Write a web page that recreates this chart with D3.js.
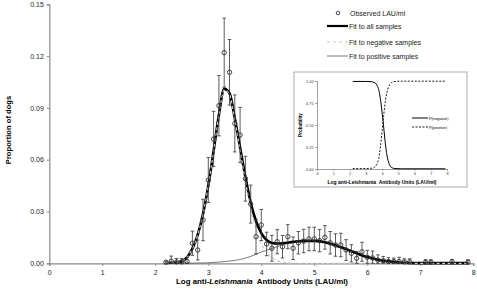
<!DOCTYPE html>
<html>
<head>
<meta charset="utf-8">
<script src="https://cdn.jsdelivr.net/npm/d3@7"></script>
<style>
  body { margin: 0; background: #fff; }
  svg text { font-family: "Liberation Sans", Arial, sans-serif; }
</style>
</head>
<body>
<svg id="chart" width="477" height="289"></svg>
<script>
// observed proportions with error bars
let obsX = [2.2, 2.3, 2.4, 2.5, 2.6, 2.7, 2.8, 2.9, 3.0, 3.1, 3.2, 3.3, 3.4, 3.5, 3.6, 3.7, 3.8, 3.9,
    4.0, 4.1, 4.2, 4.3, 4.4, 4.5, 4.6, 4.7, 4.8, 4.9, 5.0, 5.1, 5.2, 5.3, 5.4, 5.5, 5.6, 5.7, 5.8, 5.9,
    6.0, 6.1, 6.2, 6.3, 6.4, 6.5, 6.6, 6.7, 6.8, 7.1, 7.2, 7.6, 7.9];
let obsY = [0.0006, 0.0012, 0.0008, 0.0008, 0.0010, 0.0116, 0.0077, 0.0251, 0.0482, 0.0720, 0.0913, 0.1220,
    0.1106, 0.0810, 0.0743, 0.0490, 0.0343, 0.0154, 0.0222, 0.0112, 0.0087, 0.0125, 0.0096, 0.0154, 0.0087,
    0.0119, 0.0129, 0.0141, 0.0141, 0.0131, 0.0150, 0.0119, 0.0106, 0.0106, 0.0077, 0.0058, 0.0029, 0.0067,
    0.0035, 0.0031, 0.0019, 0.0015, 0.0010, 0.0010, 0.0010, 0.0008, 0.0008, 0.0006, 0.0006, 0.0008, 0.0006];
let obsErr = [0.0008, 0.0030, 0.0020, 0.0020, 0.0025, 0.0070, 0.0058, 0.0120, 0.0130, 0.0160, 0.0175, 0.0200,
    0.0190, 0.0165, 0.0160, 0.0130, 0.0110, 0.0100, 0.0090, 0.0068, 0.0075, 0.0070, 0.0065, 0.0070, 0.0065,
    0.0065, 0.0068, 0.0068, 0.0068, 0.0065, 0.0068, 0.0065, 0.0065, 0.0068, 0.0060, 0.0050, 0.0040, 0.0055,
    0.0040, 0.0040, 0.0030, 0.0025, 0.0022, 0.0020, 0.0025, 0.0018, 0.0018, 0.0015, 0.0015, 0.0015, 0.0015];

// fitted mixture curves
let fitX = [2.2, 2.4, 2.5, 2.6, 2.7, 2.8, 2.9, 3.0, 3.1, 3.2, 3.3, 3.4, 3.5, 3.6, 3.7, 3.8, 3.9, 4.0, 4.1,
    4.2, 4.3, 4.4, 4.6, 4.8, 5.0, 5.2, 5.4, 5.6, 5.8, 6.0, 6.2, 6.4, 6.6, 6.8, 7.0, 7.4, 7.9];
let allFit = [0.0002, 0.0005, 0.0012, 0.0035, 0.0085, 0.0165, 0.0285, 0.0450, 0.0650, 0.0860, 0.1010, 0.0985,
    0.0840, 0.0670, 0.0500, 0.0350, 0.0245, 0.0175, 0.0135, 0.0118, 0.0115, 0.0116, 0.0124, 0.0130, 0.0130,
    0.0122, 0.0105, 0.0082, 0.0058, 0.0036, 0.0020, 0.0011, 0.0005, 0.0002, 0.0001, 0.0001, 0.0001];
let negFit = [0.0002, 0.0005, 0.0012, 0.0035, 0.0085, 0.0165, 0.0285, 0.0450, 0.0648, 0.0857, 0.1005, 0.0978,
    0.0830, 0.0655, 0.0478, 0.0318, 0.0200, 0.0115, 0.0062, 0.0033, 0.0016, 0.0007, 0.0001, 0, 0,
    0, 0, 0, 0, 0, 0, 0, 0, 0, 0, 0, 0];
let posFit = [0, 0, 0.0001, 0.0001, 0.0001, 0.0002, 0.0002, 0.0003, 0.0005, 0.0007, 0.0010, 0.0013,
    0.0017, 0.0022, 0.0030, 0.0040, 0.0052, 0.0065, 0.0076, 0.0086, 0.0097, 0.0108, 0.0122, 0.0129, 0.0130,
    0.0122, 0.0105, 0.0082, 0.0058, 0.0036, 0.0020, 0.0011, 0.0005, 0.0002, 0.0001, 0.0001, 0.0001];

let xTicks = [0, 1, 2, 3, 4, 5, 6, 7, 8];
let yTicks = [0, 0.03, 0.06, 0.09, 0.12, 0.15];

// inset: posterior probabilities
let probX = [2.2, 3.0, 3.4, 3.6, 3.7, 3.8, 3.9, 4.0, 4.1, 4.2, 4.3, 4.4, 4.5, 4.6, 4.8, 5.2, 7.9];
let pNegative = [0.995, 0.995, 0.99, 0.975, 0.95, 0.9, 0.8, 0.65, 0.48, 0.3, 0.16, 0.08, 0.035, 0.015, 0.005, 0.002, 0.002];
let pPositive = [0.005, 0.005, 0.01, 0.03, 0.06, 0.12, 0.25, 0.42, 0.6, 0.76, 0.87, 0.93, 0.965, 0.985, 0.995, 0.998, 0.998];
let probTicks = [0, 0.25, 0.5, 0.75, 1];

let svg = d3.select('#chart');

let xScale = d3.scaleLinear().domain([0, 8]).range([49.3, 473.3]);
let yScale = d3.scaleLinear().domain([0, 0.15]).range([263.3, 4.3]);

// axes
let xAxis = svg.append('g')
    .attr('transform', 'translate(0,' + yScale(0) + ')')
    .call(d3.axisBottom(xScale).tickValues(xTicks).tickFormat(d3.format('d')).tickSize(2.5).tickPadding(4));
let yAxis = svg.append('g')
    .attr('transform', 'translate(' + xScale(0) + ',0)')
    .call(d3.axisLeft(yScale).tickValues(yTicks).tickFormat(d3.format('.2f')).tickSize(2.5).tickPadding(3));
[xAxis, yAxis].forEach(ax => {
    ax.select('.domain').attr('stroke', '#8a8a8a').attr('stroke-width', 1.2);
    ax.selectAll('.tick line').attr('stroke', '#8a8a8a');
    ax.selectAll('.tick text').attr('font-size', 7).attr('fill', '#222')
        .style('font-family', '"Liberation Sans", Arial, sans-serif');
});

// axis titles
svg.append('text')
    .attr('x', 262).attr('y', 284)
    .attr('text-anchor', 'middle').attr('font-size', 7.9).attr('font-weight', 'bold')
    .html('Log anti-<tspan font-style="italic">Leishmania</tspan>  Antibody Units (LAU/ml)')
    .attr('xml:space', 'preserve');
svg.append('text')
    .attr('transform', 'translate(11,130) rotate(-90)')
    .attr('text-anchor', 'middle').attr('font-size', 7.6).attr('font-weight', 'bold')
    .text('Proportion of dogs');

// fit lines
let line = d3.line()
    .x(d => xScale(d[0]))
    .y(d => yScale(d[1]))
    .curve(d3.curveMonotoneX);

svg.append('path')
    .datum(fitX.map((x, i) => [x, posFit[i]]))
    .attr('d', line).attr('fill', 'none').attr('stroke', '#555').attr('stroke-width', 0.8);
svg.append('path')
    .datum(fitX.map((x, i) => [x, allFit[i]]))
    .attr('d', line).attr('fill', 'none').attr('stroke', '#000').attr('stroke-width', 2.6);
svg.append('path')
    .datum(fitX.map((x, i) => [x, negFit[i]]))
    .attr('d', line).attr('fill', 'none').attr('stroke', '#c8c8c8').attr('stroke-width', 1.2)
    .attr('stroke-dasharray', '3,2.5');

// error bars
let obs = obsX.map((x, i) => ({x: x, y: obsY[i], e: obsErr[i]}));
let bars = svg.append('g').attr('stroke', '#333').attr('stroke-width', 0.8);
bars.selectAll('.bar')
    .data(obs).enter().append('line')
    .attr('x1', d => xScale(d.x)).attr('x2', d => xScale(d.x))
    .attr('y1', d => yScale(Math.max(0, d.y - d.e))).attr('y2', d => yScale(d.y + d.e));
bars.selectAll('.capTop')
    .data(obs).enter().append('line')
    .attr('x1', d => xScale(d.x) - 1.8).attr('x2', d => xScale(d.x) + 1.8)
    .attr('y1', d => yScale(d.y + d.e)).attr('y2', d => yScale(d.y + d.e));
bars.selectAll('.capBottom')
    .data(obs).enter().append('line')
    .attr('x1', d => xScale(d.x) - 1.8).attr('x2', d => xScale(d.x) + 1.8)
    .attr('y1', d => yScale(Math.max(0, d.y - d.e))).attr('y2', d => yScale(Math.max(0, d.y - d.e)));

// observed markers
svg.selectAll('.dot')
    .data(obs).enter().append('circle')
    .attr('cx', d => xScale(d.x)).attr('cy', d => yScale(d.y))
    .attr('r', 2.2).attr('fill', 'none').attr('stroke', '#333').attr('stroke-width', 0.9);

// legend
let legend = svg.append('g').attr('font-size', 7).attr('fill', '#222');
legend.append('circle').attr('cx', 338).attr('cy', 13).attr('r', 1.8)
    .attr('fill', 'none').attr('stroke', '#333').attr('stroke-width', 0.9);
legend.append('text').attr('x', 350).attr('y', 15.5).text('Observed LAU/ml');
legend.append('line').attr('x1', 327).attr('x2', 348).attr('y1', 26).attr('y2', 26)
    .attr('stroke', '#000').attr('stroke-width', 2.2);
legend.append('text').attr('x', 349).attr('y', 28.5).text('Fit to all samples');
legend.append('line').attr('x1', 327).attr('x2', 348).attr('y1', 42).attr('y2', 42)
    .attr('stroke', '#c8c8c8').attr('stroke-width', 1.2).attr('stroke-dasharray', '3,3');
legend.append('text').attr('x', 349).attr('y', 44.5).text('Fit to negative samples');
legend.append('line').attr('x1', 327).attr('x2', 348).attr('y1', 56).attr('y2', 56)
    .attr('stroke', '#555').attr('stroke-width', 0.8);
legend.append('text').attr('x', 349).attr('y', 58.5).text('Fit to positive samples');

// inset
let inset = svg.append('g');
inset.append('rect').attr('x', 294).attr('y', 72).attr('width', 173).attr('height', 115)
    .attr('fill', '#fff').attr('stroke', '#999').attr('stroke-width', 0.8);

let ix = d3.scaleLinear().domain([0, 8]).range([317, 447]);
let iy = d3.scaleLinear().domain([0, 1]).range([169, 81]);

let ixAxis = inset.append('g').attr('transform', 'translate(0,' + iy(0) + ')')
    .call(d3.axisBottom(ix).tickValues(xTicks).tickFormat(d3.format('d')).tickSize(1.5).tickPadding(1.5));
let iyAxis = inset.append('g').attr('transform', 'translate(' + ix(0) + ',0)')
    .call(d3.axisLeft(iy).tickValues(probTicks).tickFormat(d3.format('.2f')).tickSize(1.5).tickPadding(2));
[ixAxis, iyAxis].forEach(ax => {
    ax.select('.domain').attr('stroke', '#888').attr('stroke-width', 0.8);
    ax.selectAll('.tick line').attr('stroke', '#888');
    ax.selectAll('.tick text').attr('font-size', 3.8).attr('fill', '#333')
        .style('font-family', '"Liberation Sans", Arial, sans-serif');
});

inset.append('text')
    .attr('x', 382).attr('y', 184)
    .attr('text-anchor', 'middle').attr('font-size', 5).attr('font-weight', 'bold')
    .text('Log anti-Leishmania  Antibody Units (LAU/ml)')
    .attr('xml:space', 'preserve');
inset.append('text')
    .attr('transform', 'translate(302,125) rotate(-90)')
    .attr('text-anchor', 'middle').attr('font-size', 4.6).attr('font-weight', 'bold')
    .text('Probability');

let probLine = d3.line()
    .x(d => ix(d[0]))
    .y(d => iy(d[1]))
    .curve(d3.curveMonotoneX);
inset.append('path')
    .datum(probX.map((x, i) => [x, pNegative[i]]))
    .attr('d', probLine).attr('fill', 'none').attr('stroke', '#000').attr('stroke-width', 1);
inset.append('path')
    .datum(probX.map((x, i) => [x, pPositive[i]]))
    .attr('d', probLine).attr('fill', 'none').attr('stroke', '#000').attr('stroke-width', 0.9)
    .attr('stroke-dasharray', '2,1.5');

inset.append('line').attr('x1', 412).attr('x2', 428).attr('y1', 118).attr('y2', 118)
    .attr('stroke', '#000').attr('stroke-width', 1);
inset.append('text').attr('x', 429).attr('y', 119.5).attr('font-size', 3.8).text('P(negative)');
inset.append('line').attr('x1', 412).attr('x2', 428).attr('y1', 127).attr('y2', 127)
    .attr('stroke', '#000').attr('stroke-width', 0.9).attr('stroke-dasharray', '2,1.5');
inset.append('text').attr('x', 429).attr('y', 128.5).attr('font-size', 3.8).text('P(positive)');
</script>
</body>
</html>
